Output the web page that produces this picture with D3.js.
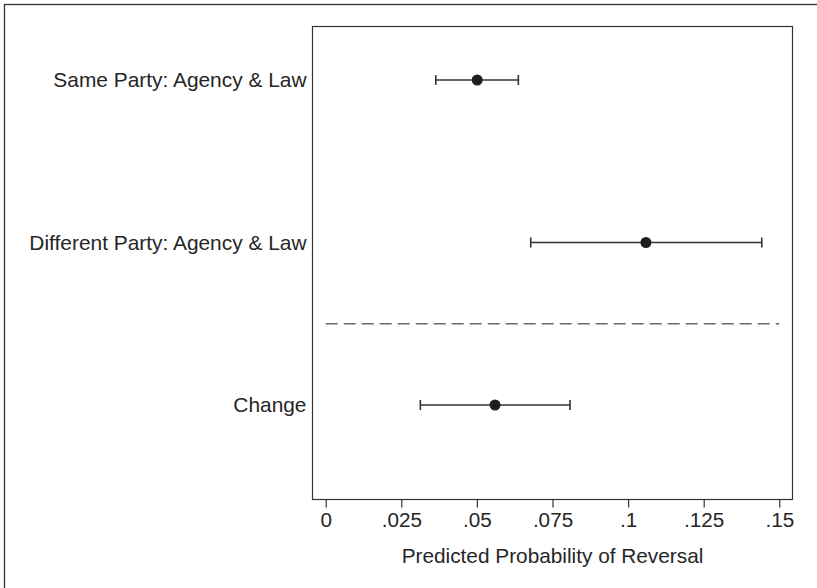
<!DOCTYPE html>
<html>
<head>
<meta charset="utf-8">
<script src="https://cdn.jsdelivr.net/npm/d3@7"></script>
<style>
  html, body { margin: 0; padding: 0; background: #fff; }
  svg { display: block; }
  text { font-family: "Liberation Sans", Arial, Helvetica, sans-serif; fill: #262626; }
</style>
</head>
<body>
<svg id="chart" width="817" height="588"></svg>
<script>
const categories = ["Same Party: Agency & Law", "Different Party: Agency & Law", "Change"];
const positions = [1, 2, 3];
const estimates = [0.0501, 0.1059, 0.0560];
const lower = [0.0364, 0.0678, 0.0313];
const upper = [0.0637, 0.1442, 0.0808];
const xTicks = [0, 0.025, 0.05, 0.075, 0.1, 0.125, 0.15];
const xTickLabels = ["0", ".025", ".05", ".075", ".1", ".125", ".15"];
const separatorPos = 2.5;
const xTitle = "Predicted Probability of Reversal";

const svg = d3.select("#chart");
const frame = { left: 312.5, top: 26.5, right: 792.5, bottom: 499.5 };
const FONT = '"Liberation Sans", Arial, sans-serif';

// outer border (only top/left visible)
svg.append("rect")
  .attr("x", 4.5).attr("y", 4.5)
  .attr("width", 900).attr("height", 700)
  .attr("fill", "none").attr("stroke", "#333").attr("stroke-width", 1.3);

const x = d3.scaleLinear().domain([0, 0.15]).range([325.7, 779.3]);
const y = d3.scaleLinear().domain([1, 3]).range([80, 405]);

// plot frame
svg.append("rect")
  .attr("x", frame.left).attr("y", frame.top)
  .attr("width", frame.right - frame.left).attr("height", frame.bottom - frame.top)
  .attr("fill", "none").attr("stroke", "#333").attr("stroke-width", 1.2);

// x axis
const xAxis = d3.axisBottom(x)
  .tickValues(xTicks)
  .tickFormat((d, i) => xTickLabels[i])
  .tickSize(8)
  .tickPadding(5)
  .tickSizeOuter(0);
const gx = svg.append("g").attr("transform", `translate(0,${frame.bottom})`).call(xAxis);
gx.select(".domain").remove();
gx.selectAll(".tick line").attr("stroke", "#333").attr("stroke-width", 1.2);
gx.selectAll(".tick text").attr("font-size", 20.7).attr("fill", "#262626")
  .style("font-family", FONT);

// x title
svg.append("text")
  .attr("x", (frame.left + frame.right) / 2)
  .attr("y", 563)
  .attr("text-anchor", "middle")
  .attr("font-size", 20.8)
  .text(xTitle);

// y axis labels
const yAxis = d3.axisLeft(y)
  .tickValues(positions)
  .tickFormat((d, i) => categories[i])
  .tickSize(0)
  .tickPadding(6);
const gy = svg.append("g").attr("transform", `translate(${frame.left},0)`).call(yAxis);
gy.select(".domain").remove();
gy.selectAll(".tick text").attr("font-size", 20.9).attr("fill", "#262626")
  .style("font-family", FONT);

// dashed separator
svg.append("line")
  .attr("x1", x(0)).attr("x2", x(0.15))
  .attr("y1", y(separatorPos)).attr("y2", y(separatorPos))
  .attr("stroke", "#6a6a6a").attr("stroke-width", 1.6)
  .attr("stroke-dasharray", "12,6");

// error bars
const data = categories.map((c, i) => ({ c, p: positions[i], est: estimates[i], lo: lower[i], hi: upper[i] }));
const g = svg.append("g");
g.selectAll("line.ci").data(data).join("line").attr("class", "ci")
  .attr("x1", d => x(d.lo)).attr("x2", d => x(d.hi))
  .attr("y1", d => y(d.p)).attr("y2", d => y(d.p))
  .attr("stroke", "#333").attr("stroke-width", 1.6);
g.selectAll("line.capl").data(data).join("line").attr("class", "capl")
  .attr("x1", d => x(d.lo)).attr("x2", d => x(d.lo))
  .attr("y1", d => y(d.p) - 5).attr("y2", d => y(d.p) + 5)
  .attr("stroke", "#333").attr("stroke-width", 1.6);
g.selectAll("line.caph").data(data).join("line").attr("class", "caph")
  .attr("x1", d => x(d.hi)).attr("x2", d => x(d.hi))
  .attr("y1", d => y(d.p) - 5).attr("y2", d => y(d.p) + 5)
  .attr("stroke", "#333").attr("stroke-width", 1.6);
g.selectAll("circle").data(data).join("circle")
  .attr("cx", d => x(d.est)).attr("cy", d => y(d.p))
  .attr("r", 5.5).attr("fill", "#1e1e1e");
</script>
</body>
</html>
